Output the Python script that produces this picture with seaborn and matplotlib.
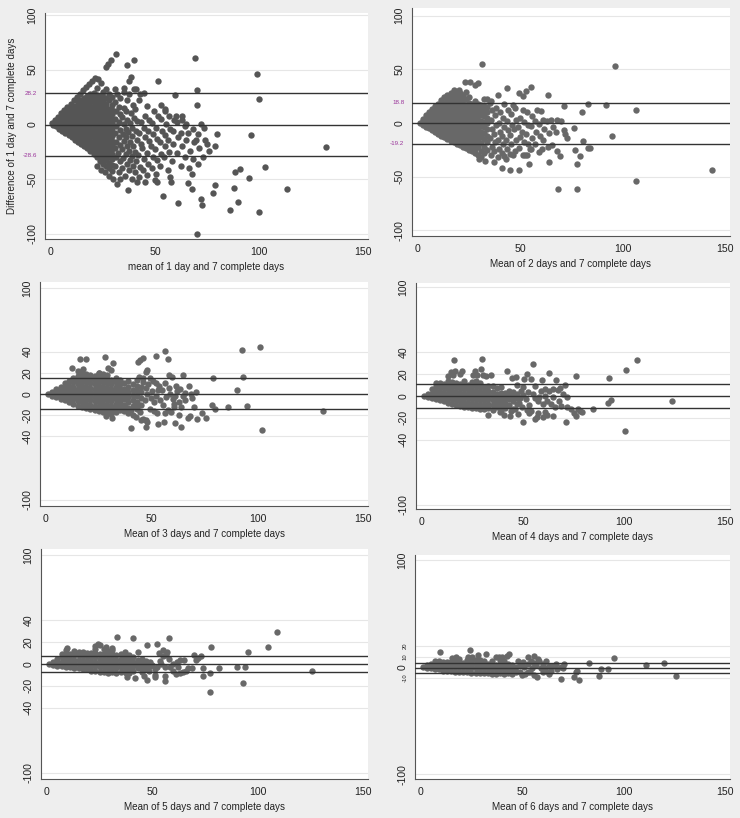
import matplotlib
matplotlib.use("Agg")
import matplotlib.pyplot as plt
import pandas as pd
import seaborn as sns

# axis titles
x_titles = [
    "mean of 1 day and 7 complete days",
    "Mean of 2 days and 7 complete days",
    "Mean of 3 days and 7 complete days",
    "Mean of 4 days and 7 complete days",
    "Mean of 5 days and 7 complete days",
    "Mean of 6 days and 7 complete days",
]
y_title = "Difference of 1 day and 7 complete days"

# lower limit, mean difference, upper limit
agreement = [
    (-28.6, -0.2, 28.2),
    (-19.2, -0.2, 18.8),
    (-14.5, 0.1, 14.8),
    (-10.6, 0.1, 10.9),
    (-7.7, -0.1, 7.4),
    (-5.0, -0.4, 4.1),
]

# labelled limit values (panels 1 and 2 only)
limit_labels = [["28.2", "-28.6"], ["18.8", "-19.2"], [], [], [], []]

y_ticks = [
    [-100, -50, 0, 50, 100],
    [-100, -50, 0, 50, 100],
    [-100, -40, -20, 0, 20, 40, 100],
    [-100, -40, -20, 0, 20, 40, 100],
    [-100, -40, -20, 0, 20, 40, 100],
    [-100, -10, 0, 10, 20, 100],
]
x_ticks = [0, 50, 100, 150]

# ---- panel 1: dense core as columns (mean, [differences]) + single points
core_1 = [
    (1, [-1, 0]),
    (2.5, [-2, 2]),
    (4, [-4, 0, 4]),
    (5.5, [-6, -2, 2, 6]),
    (7, [-8, -4, 0, 4, 8, 10]),
    (8.5, [-10, -6, -2, 2, 6, 10, 13]),
    (10, [-12, -8, -4, 0, 4, 8, 12, 15]),
    (11.5, [-14, -10, -6, -2, 2, 6, 10, 14, 17]),
    (13, [-16, -12, -8, -4, 0, 4, 8, 12, 16, 20]),
    (14.5, [-18, -14, -10, -6, -2, 2, 6, 10, 14, 18, 22]),
    (16, [-20, -16, -12, -8, -4, 0, 4, 8, 12, 16, 20, 24]),
    (17.5, [-22, -18, -14, -10, -6, -2, 2, 6, 10, 14, 18, 22, 26]),
    (19, [-24, -20, -16, -12, -8, -4, 0, 4, 8, 12, 16, 20, 24, 28]),
    (20.5, [-27, -23, -19, -15, -11, -7, -3, 1, 5, 9, 13, 17, 21, 25, 29]),
    (22, [-30, -26, -22, -18, -14, -10, -6, -2, 2, 6, 10, 14, 18, 22, 27, 33]),
    (23.5, [-34, -30, -26, -22, -18, -14, -10, -6, -2, 2, 6, 10, 14, 18, 22, 26]),
    (25, [-36, -32, -28, -24, -20, -16, -12, -8, -4, 0, 4, 8, 12, 16, 20, 25, 30]),
    (26.5, [-38, -33, -29, -25, -21, -17, -13, -9, -5, -1, 3, 7, 11, 15, 19, 24]),
    (28, [-40, -35, -30, -26, -22, -18, -14, -10, -6, -2, 2, 6, 10, 14, 22, 28]),
    (29.5, [-43, -37, -32, -27, -23, -19, -15, -11, -7, -3, 1, 5, 9, 13, 18, 25]),
]
points_1 = [
    (0.5, 1), (2, 4), (3.5, 7), (5, 10), (6.5, 13), (8, 16), (9.5, 19), (11, 22),
    (12.5, 25), (14, 28), (15.5, 31), (17, 34), (18.5, 37), (20, 40), (21, 42), (22.5, 41), (24, 38),
    (30.8, -38), (31.2, -30), (30.6, -22), (31.4, -16), (30.9, -8), (31.5, -2), (30.7, 5), (31.3, 12), (31.0, 20), (31.6, 28),
    (32.6, -44), (33.0, -34), (32.4, -26), (33.2, -19), (32.8, -12), (33.4, -5), (32.5, 2), (33.1, 9), (32.7, 16), (33.3, 24),
    (34.2, -40), (34.8, -31), (34.0, -23), (35.0, -15), (34.5, -9), (35.2, 0), (34.3, 7), (34.9, 15), (35.1, 30),
    (35.8, -47), (36.4, -36), (36.0, -27), (36.6, -20), (35.9, -12), (36.3, -4), (36.8, 4), (36.1, 12), (36.5, 22),
    (37.4, -42), (38.0, -33), (37.6, -24), (38.2, -16), (37.2, -7), (37.9, 1), (38.4, 10), (37.5, 28),
    (39.0, -50), (39.4, -38), (38.8, -29), (39.6, -20), (39.2, -11), (38.9, -3), (39.8, 6), (39.3, 18),
    (40.5, -44), (41.0, -34), (40.2, -25), (41.3, -14), (40.7, -6), (41.5, 3), (40.4, 14), (40.9, 32),
    (42.3, -48), (42.8, -39), (42.0, -28), (43.1, -18), (42.5, -8), (43.4, 2), (42.2, 22),
    (44.2, -42), (44.7, -32), (44.0, -22), (45.2, -12), (44.5, -3), (45.0, 8), (44.6, 29),
    (46.3, -46), (46.8, -36), (46.0, -26), (47.2, -15), (46.5, -6), (47.0, 4), (46.2, 17),
    (48.4, -40), (48.9, -30), (48.1, -20), (49.2, -9), (48.6, 1), (49.5, 12),
    (50.3, -45), (50.8, -33), (50.1, -23), (51.2, -13), (50.6, -3), (51.5, 8),
    (52.3, -38), (53.0, -27), (52.5, -16), (53.3, -6), (52.8, 5), (53.1, 18),
    (54.4, -30), (55.0, -20), (54.6, -10), (55.3, 0), (54.8, 12),
    (56.2, -42), (56.9, -25), (56.5, -14), (57.2, -4), (56.8, 8),
    (58.3, -34), (58.9, -18), (58.5, -6), (59.2, 4),
    (60.4, -26), (61.0, -12), (60.7, 2),
    (62.3, -38), (62.9, -20), (62.5, -8), (63.0, 8),
    (64.2, -30), (64.8, -14), (64.5, -2),
    (66.3, -40), (66.7, -24), (66.0, -8),
    (68.2, -32), (68.7, -16), (68.4, -4),
    (69.5, -14), (70.8, -36), (71.2, -22), (73.0, -30), (75.0, -18),
    (31.4, 64), (29, 59), (27.5, 55), (26.5, 52), (36.5, 54), (40, 59), (69, 61), (38.5, 43), (37.5, 40), (51.3, 40),
    (99, 46), (100, 23.5), (70, 31), (59.5, 26.5), (70, 18), (132, -21), (96, -9.5), (103, -39), (113.5, -59), (100, -80),
    (90, -71), (86, -78), (88, -58), (88.3, -44), (90.7, -41), (95, -49), (77.7, -62.5), (79, -55.5), (68, -45), (68, -59.5),
    (66, -54), (72, -68), (72.4, -74), (70, -100.6), (61, -72), (53.7, -66), (57, -48), (57.5, -52.5), (50, -51), (51, -53),
    (41.3, -53), (45, -53), (80, -9), (76, -24), (79, -20), (73.5, -3), (72, 0), (70.5, -9), (74, -14), (65, 0),
    (63, 4), (60, 8), (55, 14), (43, 28), (35, 33), (31, 32), (40, 32), (26.6, 32), (24, -42), (26, -44),
    (22, -38), (33, -50), (37, -60), (28, -47), (30, -50), (32, -55),
]

# ---- panel 2
core_2 = [
    (1, [0]),
    (2.5, [-2, 2, 4]),
    (4, [-4, 0, 4, 7]),
    (5.5, [-5, -1, 3, 7, 10]),
    (7, [-7, -3, 1, 5, 9, 13]),
    (8.5, [-8, -4, 0, 4, 8, 12, 16]),
    (10, [-10, -6, -2, 2, 6, 10, 14, 18]),
    (11.5, [-12, -8, -4, 0, 4, 8, 12, 16, 21]),
    (13, [-13, -9, -5, -1, 3, 7, 11, 15, 19, 24]),
    (14.5, [-15, -11, -7, -3, 1, 5, 9, 13, 17, 21, 26]),
    (16, [-17, -13, -9, -5, -1, 3, 7, 11, 15, 19, 23, 28]),
    (17.5, [-18, -14, -10, -6, -2, 2, 6, 10, 14, 18, 22, 26, 31]),
    (19, [-20, -16, -12, -8, -4, 0, 4, 8, 12, 16, 20, 24, 29]),
    (20.5, [-21, -17, -13, -9, -5, -1, 3, 7, 11, 15, 19, 23, 28]),
    (22, [-22, -18, -14, -10, -6, -2, 2, 6, 10, 14, 18, 22, 26]),
    (23.5, [-23, -19, -15, -11, -7, -3, 1, 5, 9, 13, 17, 22, 29]),
    (25, [-25, -21, -17, -13, -9, -5, -1, 3, 7, 11, 15, 19, 24]),
    (26.5, [-26, -22, -18, -14, -10, -6, -2, 2, 6, 10, 14, 18]),
    (28, [-28, -24, -20, -16, -12, -8, -4, 0, 4, 8, 12, 16, 20, 35]),
    (29.5, [-30, -22, -18, -14, -10, -6, -2, 2, 6, 10, 14, 18]),
    (31, [-32, -26, -19, -13, -8, -3, 2, 7, 12, 17]),
    (32.5, [-28, -22, -15, -9, -4, 1, 6, 11, 16, 22]),
    (34, [-25, -18, -12, -6, 0, 5, 10, 15]),
]
points_2 = [
    (35.5, -30), (36.0, -22), (35.3, -14), (36.2, -6), (35.8, 3), (36.4, 12), (35.6, 20),
    (37.3, -26), (37.8, -18), (37.1, -10), (38.0, -2), (37.5, 7), (38.2, 14),
    (39.2, -32), (39.7, -24), (39.0, -16), (39.9, -8), (39.4, 0), (40.0, 10), (39.3, 26),
    (41.2, -28), (41.6, -20), (41.0, -12), (41.9, -4), (41.4, 5), (42.0, 18),
    (43.2, -34), (43.7, -24), (43.0, -16), (43.9, -7), (43.4, 2), (44.0, 12), (43.4, 32.8),
    (45.2, -29), (45.7, -20), (45.0, -11), (45.9, -2), (45.4, 8), (46.5, 17),
    (47.2, -26), (47.8, -16), (47.0, -6), (47.9, 3), (47.5, 14),
    (49.2, -23), (49.8, -13), (49.0, -4), (49.9, 5), (49.6, 28), (49.4, -43.8),
    (51.3, -30), (51.8, -18), (51.0, -8), (51.9, 1), (51.5, 12), (51.5, 25),
    (53.2, -30), (53.7, -20), (53.0, -10), (53.9, -2), (53.4, 10), (53, 29.7), (55, 33.4),
    (55.2, -24), (55.7, -14), (55.0, -3), (55.9, 6), (54.5, -38.4),
    (57.2, -20), (57.8, -8), (57.0, 2), (58.0, 12),
    (59.3, -27), (59.8, -12), (59.2, -1), (60.0, 11),
    (61.3, -16), (61.8, -6), (61.0, 3),
    (63.3, -22), (63.8, -9), (63.0, 2), (64, -36), (63.4, 25.6),
    (65.4, -21), (65.8, -4), (65.2, 3),
    (67.8, -26), (67.5, -8), (68, 3),
    (69.4, -31), (70, 2), (71.4, 15.6), (71.5, -7), (72, -10), (72.6, -14),
    (76, -4.7), (76.7, -25.6), (77.6, -38.4), (79.2, -31), (80.8, -17), (83, -23.4), (84, -23),
    (80.3, 10.6), (83, 17.8), (91.7, 17), (94.6, -12.5), (106.3, 11.6), (96.3, 53), (31.2, 54.7),
    (143.4, -43.8), (106.3, -54), (68.6, -61.6), (77.6, -61.6),
    (41.3, -42), (42, -31), (46.7, -29.7), (52.4, -30), (60.5, -24), (54.8, -24), (45, -44),
    (29.6, 37.5), (25.5, 38), (23, 38), (20.3, 31), (34, 22), (35, 18.8), (37, -36), (33, -35), (30, -34),
]

# ---- panel 3
core_3 = [
    (1, [0]),
    (3, [-2, 2]),
    (5, [-3, 1, 5]),
    (7, [-5, -1, 3, 7]),
    (9, [-6, -2, 2, 6, 10]),
    (11, [-8, -4, 0, 4, 8, 12]),
    (13, [-9, -5, -1, 3, 7, 11, 15]),
    (15, [-11, -7, -3, 1, 5, 9, 13, 17, 22]),
    (17, [-12, -8, -4, 0, 4, 8, 12, 16, 20]),
    (19, [-13, -9, -5, -1, 3, 7, 11, 15, 19]),
    (21, [-14, -10, -6, -2, 2, 6, 10, 14, 18]),
    (23, [-15, -11, -7, -3, 1, 5, 9, 13, 17]),
    (25, [-16, -12, -8, -4, 0, 4, 8, 12, 16, 20]),
    (27, [-17, -13, -9, -5, -1, 3, 7, 11, 15, 19]),
    (29, [-18, -14, -10, -6, -2, 2, 6, 10, 14, 18]),
    (31, [-19, -15, -11, -7, -3, 1, 5, 9, 13]),
    (33, [-17, -13, -9, -5, -1, 3, 7, 11, 15]),
    (35, [-15, -11, -7, -3, 1, 5, 9, 13]),
    (37, [-16, -10, -5, 0, 5, 10]),
    (39, [-13, -8, -3, 2, 7, 12]),
    (41, [-11, -6, -1, 4, 9]),
    (43, [-14, -8, -2, 3, 8, 13]),
    (45, [-10, -4, 2, 7]),
]
points_3 = [
    (16, 32.8), (19, 32.8), (27.8, 34.7), (31.7, 29), (29.4, 25), (12.5, 25), (17.7, 24), (25, 20), (31, 22.7),
    (43.4, 30.6), (44.6, 32.2), (45.8, 33.8), (47.3, 21), (47.8, 23), (52, 36), (56.3, 41), (57.5, 32.8), (58, 18),
    (59.5, 15.8), (65, 18), (49, 15), (50.5, 12), (52, 10), (44, 16), (46, 15.5), (53.6, 8), (55, 4), (56.5, 10), (58, 6),
    (61, -2), (62, 3), (63.5, 5), (65, -2), (66, 1), (67.7, 7.6), (68.8, 0), (71, 1.6),
    (79, 14.8), (93, 16.4), (90.3, 3.8), (92.7, 41.6), (101.3, 44.8), (102, -34), (131, -15.8), (95, -11.4), (86, -12),
    (78.6, -10), (80, -14.5), (75.5, -22.4), (74, -17.7), (71.3, -23.7), (67, -22.7), (68, -21), (63, -20), (63.8, -31.5),
    (61, -27), (60.6, -9), (60.8, -12), (57.5, -15), (59, -17), (56.5, -18), (52.8, -28), (55.6, -26), (49, -14), (51, -16),
    (52.5, -18), (47.5, -25), (48, -26), (47.3, -31), (45, -25), (46, -24), (40.3, -32.5), (38.8, -18), (41, -20),
    (42.6, -22), (28.6, -21), (31.4, -23), (35, -9), (37.5, -12), (40, -15), (42, -9),
    (47, -6), (48, 0), (47.5, 6), (49.5, -4), (50, 3), (51, -8), (52, -2), (53, 4), (54, -6), (55.5, -10), (57, -3),
    (58.5, 0), (60, -5), (61.5, 8), (63, -8), (64, -12), (66, -6), (69, -4), (70, -12), (46, 11), (48.5, 9), (44.5, -17), (43, -12),
]

# ---- panel 4
core_4 = [
    (1, [0]),
    (3, [-1, 2]),
    (5, [-2, 2, 6]),
    (7, [-3, 1, 5, 9, 12]),
    (9, [-4, 0, 4, 8, 12]),
    (11, [-5, -1, 3, 7, 11]),
    (13, [-6, -2, 2, 6, 10, 14]),
    (15, [-7, -3, 1, 5, 9, 13]),
    (17, [-8, -4, 0, 4, 8, 12]),
    (19, [-9, -5, -1, 3, 7, 11]),
    (21, [-10, -6, -2, 2, 6, 10, 14]),
    (23, [-10, -6, -2, 2, 6, 10]),
    (25, [-11, -7, -3, 1, 5, 9, 13]),
    (27, [-11, -7, -3, 1, 5, 9, 14]),
    (29, [-12, -8, -4, 0, 4, 8, 12]),
    (31, [-12, -8, -4, 0, 4, 8]),
    (33, [-11, -7, -3, 1, 5, 9]),
    (35, [-13, -8, -4, 0, 4, 9]),
    (37, [-10, -6, -2, 2, 7]),
    (39, [-14, -9, -5, -1, 3, 8]),
    (41, [-11, -6, -2, 3]),
    (43, [-8, -3, 1, 5]),
    (45, [-12, -5, 0, 4]),
    (47, [-7, -2, 2]),
]
points_4 = [
    (16, 33), (29.6, 33.7), (29.3, 24.4), (30.5, 19.7), (13, 18), (14.5, 22), (16.5, 23), (15.5, 19), (19, 20), (20, 23),
    (25.5, 19), (26.5, 23), (27.5, 19.5), (32, 18), (34, 19), (42, 22.8), (55.2, 29), (44.5, 16.5), (46.5, 17.5),
    (50.5, 16), (52, 20), (54, 16), (59.3, 15), (63, 21), (66.4, 14.4), (76, 18.8), (71, 10.3), (67.5, 5.6), (68.3, 7),
    (59, 5), (61, 6), (63, 5), (64.7, 6), (56, 8.75), (92.3, 16.6), (101, 23.8), (106.3, 33), (123.6, -4.4),
    (92, -6), (93.4, -4), (71.7, -0.6), (72, -10), (74, -12), (75, -16), (76, -18), (77, -12), (78, -14),
    (84.8, -11.6), (79.4, -14.7), (71.3, -24), (60, -19), (62, -17), (64.7, -18), (61, -15), (57.5, -16), (56, -21),
    (57, -19), (52, -13), (53, -16), (54, -14), (50.2, -24), (47.4, -16.9), (38.7, -15), (40.5, -17), (43.7, -18),
    (33, -17.8), (57.7, -5), (60, -7), (62, -5), (64, -7), (58, -1), (61, 0), (65, -1), (49, 5), (50, 1), (51.5, -3),
    (52.5, 4), (48, -6), (53, -8), (55, 2), (56, -2), (49.5, -10), (47, 10), (50, 8), (46, -12), (44, -14), (48.5, -2),
    (66, -10), (68, -5), (69, -9), (70, 2), (100.2, -32.5),
]

# ---- panel 5
core_5 = [
    (1, [0]),
    (3, [-1, 2]),
    (5, [-2, 2, 5]),
    (7, [-2, 2, 6, 9]),
    (9, [-3, 1, 5, 9, 13]),
    (11, [-3, 1, 5, 9]),
    (13, [-4, 0, 4, 8, 12]),
    (15, [-4, 0, 4, 8, 11]),
    (17, [-5, -1, 3, 7, 11]),
    (19, [-5, -1, 3, 7, 10]),
    (21, [-6, -2, 2, 6, 10]),
    (23, [-6, -2, 2, 6, 10, 14]),
    (25, [-7, -3, 1, 5, 9, 17]),
    (27, [-7, -3, 1, 5, 9, 14]),
    (29, [-8, -4, 0, 4, 8, 12]),
    (31, [-7, -3, 1, 5, 9, 13]),
    (33, [-8, -4, 0, 4, 8]),
    (35, [-7, -3, 1, 5, 9]),
    (37, [-6, -2, 2, 6, 11]),
    (39, [-8, -4, 0, 4, 8]),
    (41, [-6, -2, 2, 6]),
    (43, [-4, 0, 4]),
    (45, [-7, -3, 1, 5]),
    (47, [-5, -1, 3]),
    (49, [-2, 2]),
]
points_5 = [
    (33.3, 25.2), (40.6, 23.4), (57.8, 23.4), (52.3, 18.8), (47.3, 17), (23, 16.6), (24, 18.5), (27.8, 16), (31, 14.5),
    (9.4, 14.5), (43, 10.8), (53, 10), (55, 13), (57, 11), (78, 16), (95.3, 11.4), (105, 16), (109, 29), (125.8, -6.5),
    (90, -3), (94, -3), (81.5, -4), (74, -4), (77.3, -8.6), (74.2, -11), (77.3, -26), (93, -17),
    (66.7, -4), (69, -4), (70.5, 4), (71.8, 5.5), (73.3, 7), (69.7, 8), (65, 4), (63, 4), (60, 0), (56, -2.5), (60, -6),
    (62, -3), (63, -8.6), (64.5, -7), (61, -9), (56, -11), (55.8, -15.4), (51.5, -10), (51.5, -12), (47.3, -14.5),
    (46, -11), (42, -13), (38, -12), (37.5, -8), (48.5, -6), (50, -1), (51.5, -5), (53.5, 3), (55, 7), (56.5, 8.5),
    (58, 5), (52, -3), (54, 0), (58.5, -3), (61.5, 2), (66, -6),
]

# ---- panel 6
core_6 = [
    (1, [0]),
    (3, [-1, 2]),
    (5, [-1, 3]),
    (7, [-2, 2, 6]),
    (9, [-2, 2, 6]),
    (11, [-3, 1, 5]),
    (13, [-3, 1, 5]),
    (15, [-3, 1, 5]),
    (17, [-4, 0, 4, 8]),
    (19, [-4, 0, 4, 8]),
    (21, [-4, 0, 4]),
    (23, [-4, 0, 4, 7]),
    (25, [-5, -1, 3, 7]),
    (27, [-5, -1, 3, 7]),
    (29, [-5, -1, 3, 7]),
    (31, [-5, -1, 3, 6]),
    (33, [-5, -1, 3]),
    (35, [-6, -2, 2, 6]),
    (37, [-6, -2, 2]),
    (39, [-5, -1, 3, 7]),
    (41, [-6, -2, 2, 6]),
    (43, [-5, -1, 3]),
    (45, [-6, -2, 2]),
    (47, [-4, 0]),
]
points_6 = [
    (9.4, 14.4), (24.2, 16.6), (23.4, 10), (25.5, 10), (28, 11.5), (32, 12), (37, 10), (38.5, 10), (40, 10),
    (42.6, 10.5), (43.6, 12), (15.6, 9), (17.6, 10), (53, 10), (55.6, 11), (58, 8), (58.3, 6), (61.7, 6),
    (49, -4), (50, -7.5), (51.5, -6), (52.6, -4.5), (56, -7), (57.5, -9), (54, -4), (60, -4), (63, -6),
    (65, 1), (66.5, 3), (69, 0), (70.7, 3), (70, -1), (69, -10.6), (75.7, -9), (78, -11.6), (77, -3), (76.5, -4),
    (83, 4), (88, -8.4), (88.8, -1.2), (92, -1.2), (95.4, 9), (111, 1.9), (120, 4), (125.8, -8.4),
    (61, -1), (62.5, -4), (64, -3), (67, -2), (49, 2), (51, 0), (53, 3), (55, -1), (57, 2), (59, -1),
    (48, 6), (50.5, 5), (54.5, 6), (56, 4), (60, 3), (63, 1),
]

cores = [core_1, core_2, core_3, core_4, core_5, core_6]
singles = [points_1, points_2, points_3, points_4, points_5, points_6]

# layout in pixels: left, top, right, bottom of each plot region
boxes = [(45, 13, 368, 239), (412, 8, 730, 236), (40, 282, 368, 506),
         (416, 283, 730, 509), (41, 549, 368, 779), (415, 555, 730, 779)]
y_lims = [(-104.9, 101.8), (-105.3, 107.0), (-105.7, 105.7),
          (-103.7, 103.7), (-105.5, 105.5), (-104.4, 105.0)]
dot_colors = ["#555555", "#686868", "#686868", "#686868", "#686868", "#686868"]

W, H = 740, 818

sns.set_style("white")
plt.rcParams["font.family"] = ["Liberation Sans", "DejaVu Sans"]

fig = plt.figure(figsize=(W / 100, H / 100), dpi=100, facecolor="#eeeeee")

for i in range(6):
    l, t, r, b = boxes[i]
    ax = fig.add_axes([l / W, 1 - b / H, (r - l) / W, (b - t) / H])
    ax.set_facecolor("white")

    rows = [(x, y) for x, ys in cores[i] for y in ys] + list(singles[i])
    df = pd.DataFrame(rows, columns=["mean", "diff"])

    ticks = list(y_ticks[i])
    # light grid at labelled values
    for v in ticks:
        if v != 0:
            ax.axhline(v, color="#e6e6e6", lw=0.8, zorder=0)

    sns.scatterplot(data=df, x="mean", y="diff", ax=ax, color=dot_colors[i],
                    s=21, linewidth=0, legend=False, zorder=2)

    for v in agreement[i]:
        ax.axhline(v, color="#333333", lw=1.0, zorder=3)

    ax.set_xlim(-2.8, 152.3)
    ax.set_ylim(*y_lims[i])

    labels = [str(v) for v in ticks]
    if limit_labels[i]:
        ticks += [agreement[i][2], agreement[i][0]]
        labels += limit_labels[i]
    ax.set_yticks(ticks)
    ax.set_yticklabels(labels)
    ax.set_xticks(x_ticks)
    ax.set_xticklabels([str(v) for v in x_ticks])

    ax.tick_params(axis="both", direction="out", length=3.5, width=0.7,
                   color="#444444", labelsize=7.6, labelcolor="#222222", pad=2)
    for lab, v in zip(ax.get_yticklabels(), ticks):
        lab.set_va("center")
        if isinstance(v, float):
            lab.set_rotation(0)
            lab.set_fontsize(4.5)
            lab.set_color("#993399")
        elif i == 5 and v in (-10, 10, 20):
            lab.set_rotation(90)
            lab.set_fontsize(4.2)
        else:
            lab.set_rotation(90)

    for side in ["top", "right"]:
        ax.spines[side].set_visible(False)
    for side in ["left", "bottom"]:
        ax.spines[side].set_color("#555555")
        ax.spines[side].set_linewidth(0.8)

    ax.set_xlabel(x_titles[i], fontsize=7.1, color="#222222", labelpad=4)
    if i == 0:
        ax.set_ylabel(y_title, fontsize=7.1, color="#222222", labelpad=4)
    else:
        ax.set_ylabel("")

fig.savefig("out.png", dpi=100, facecolor=fig.get_facecolor())
